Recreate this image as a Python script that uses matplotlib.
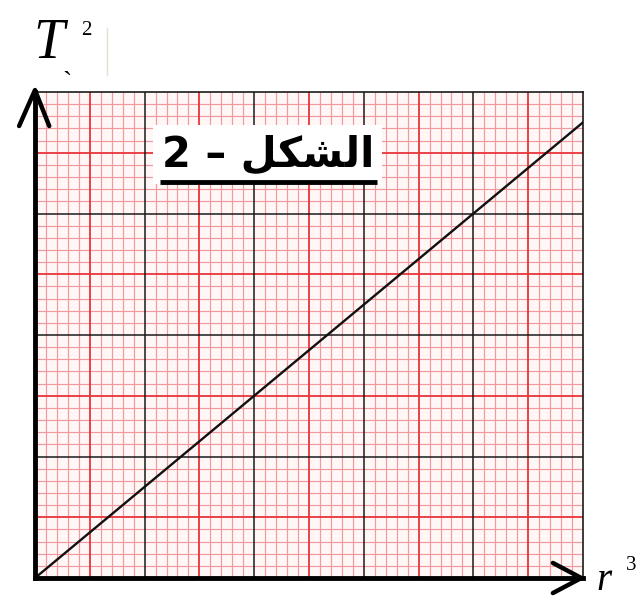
"""T^2 vs r^3 on graph paper (figure 2)."""
import numpy as np
import matplotlib
matplotlib.use('Agg')
import matplotlib.pyplot as plt

# data (units = small squares of the graph paper)
r3 = [0, 50]
T2 = [0, 37.5]
X_MAX, Y_MAX = 50, 40

# shaped Arabic (presentation forms, visual order) for "الشكل – 2"
TITLE = '2 \u2013 \ufede\ufedc\ufeb8\ufedf\ufe8d'

FINE = '#f19a9e'
MID = '#e8353a'
MAJ = '#1a1a1a'

fig = plt.figure(figsize=(6.43, 6.0), dpi=100)
ax = fig.add_axes([35 / 643, 22 / 600, 548 / 643, 486 / 600])
ax.set_facecolor('#fff6f6')
ax.set_xlim(0, X_MAX)
ax.set_ylim(0, Y_MAX)

# graph paper
for v in range(1, X_MAX):
    if v % 10 == 0:
        ax.axvline(v, color=MAJ, lw=1.1, zorder=3)
    elif v % 5 == 0:
        ax.axvline(v, color=MID, lw=1.3, zorder=2)
    else:
        ax.axvline(v, color=FINE, lw=0.85, zorder=1)
for v in range(1, Y_MAX):
    if v % 10 == 0:
        ax.axhline(v, color=MAJ, lw=1.1, zorder=3)
    elif v % 5 == 0:
        ax.axhline(v, color=MID, lw=1.3, zorder=2)
    else:
        ax.axhline(v, color=FINE, lw=0.85, zorder=1)

ax.plot(r3, T2, color='#111111', lw=1.7, zorder=4)

ax.set_xticks([])
ax.set_yticks([])
for s in ['top', 'right']:
    ax.spines[s].set_linewidth(1.2)
    ax.spines[s].set_color(MAJ)
for s in ['left', 'bottom']:
    ax.spines[s].set_linewidth(3.5)
    ax.spines[s].set_color('black')
    ax.spines[s].set_zorder(6)

# arrow heads
ax.plot([-0.029, 0, 0.026], [0.93, 1.004, 0.93], color='black', lw=3.2,
        transform=ax.transAxes, clip_on=False, zorder=7, solid_capstyle='round')
ax.plot([0.945, 0.997, 0.945], [0.031, 0, -0.031], color='black', lw=3.2,
        transform=ax.transAxes, clip_on=False, zorder=7, solid_capstyle='round')

# axis labels
fig.text(33 / 643, 1 - 58 / 600, 'T', fontsize=40, family='Liberation Serif',
         style='italic', ha='left', va='baseline')
fig.text(81 / 643, 1 - 35 / 600, '2', fontsize=15, family='Liberation Serif',
         ha='left', va='baseline')
fig.text(62 / 643, 1 - 90 / 600, '`', fontsize=20, family='Liberation Serif',
         ha='left', va='baseline')
fig.add_artist(plt.Line2D([107 / 643, 107 / 643], [1 - 75 / 600, 1 - 28 / 600],
                          color='#e6e0cc', lw=1.0))
fig.text(596 / 643, 1 - 590 / 600, 'r', fontsize=28, family='Liberation Serif',
         style='italic', ha='left', va='baseline')
fig.text(626 / 643, 1 - 570 / 600, '3', fontsize=15, family='Liberation Serif',
         ha='left', va='baseline')

# figure title box
ax.text(0.425, 0.872, TITLE, transform=ax.transAxes, fontsize=30,
        family=['DejaVu Sans'], weight='bold', ha='center', va='center',
        zorder=8, bbox=dict(facecolor='white', edgecolor='none', pad=6))
ax.plot([0.228, 0.624], [0.814, 0.814], color='black', lw=3.5,
        transform=ax.transAxes, zorder=9, solid_capstyle='butt')

fig.savefig('out.png', dpi=100)
